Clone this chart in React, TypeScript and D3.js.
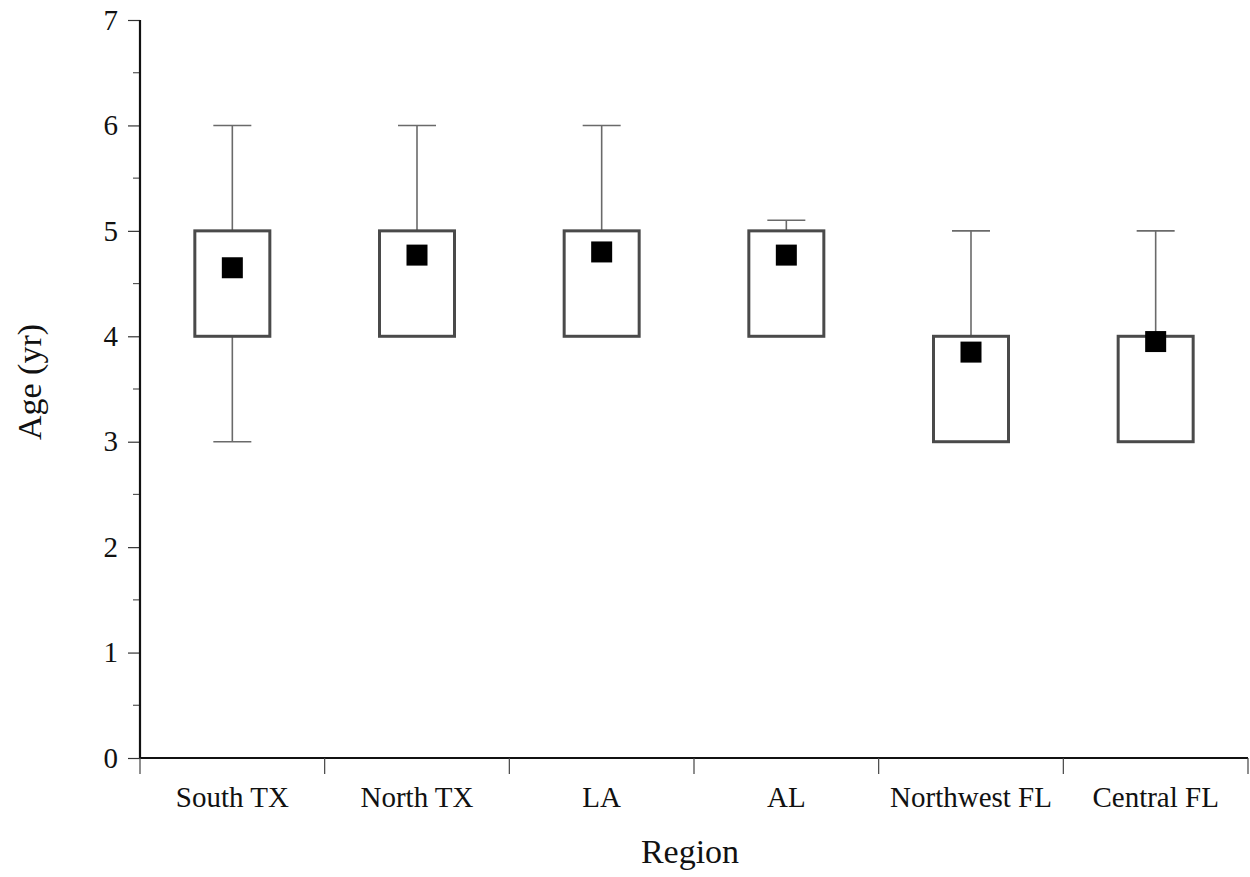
import React, { useEffect, useRef } from "react";
import * as d3 from "d3";

// Age distribution by region: box = interquartile range, whiskers = range, square = mean
const regions = ["South TX", "North TX", "LA", "AL", "Northwest FL", "Central FL"];
const lowerQuartile = [4, 4, 4, 4, 3, 3];
const upperQuartile = [5, 5, 5, 5, 4, 4];
const whiskerLow = [3, 4, 4, 4, 3, 3];
const whiskerHigh = [6, 6, 6, 5.1, 5, 5];
const meanAge = [4.65, 4.77, 4.8, 4.77, 3.85, 3.95];
const yTicks = [0, 1, 2, 3, 4, 5, 6, 7];
const yMinorTicks = [0.5, 1.5, 2.5, 3.5, 4.5, 5.5, 6.5];

const W = 1250;
const H = 877;
const FONT = "'Liberation Serif', 'Times New Roman', serif";

export default function App() {
  const ref = useRef<SVGSVGElement | null>(null);

  useEffect(() => {
    const svg = d3.select(ref.current);
    svg.selectAll("*").remove();

    const x = d3.scaleBand<string>().domain(regions).range([140, 1248]).padding(0);
    const y = d3.scaleLinear().domain([0, 7]).range([758, 20]);

    const boxW = 75;
    const capW = 38;
    const markSize = 21;

    const rows = regions.map((r, i) => ({
      region: r,
      q1: lowerQuartile[i],
      q3: upperQuartile[i],
      lo: whiskerLow[i],
      hi: whiskerHigh[i],
      mean: meanAge[i],
    }));

    const g = svg.append("g");

    // whiskers
    rows.forEach((d) => {
      const cx = x(d.region)! + x.bandwidth() / 2;
      const wg = g.append("g").attr("stroke", "#6a6a6a").attr("stroke-width", 1.6);
      if (d.hi > d.q3) {
        wg.append("line").attr("x1", cx).attr("x2", cx).attr("y1", y(d.q3)).attr("y2", y(d.hi));
        wg.append("line").attr("x1", cx - capW / 2).attr("x2", cx + capW / 2).attr("y1", y(d.hi)).attr("y2", y(d.hi));
      }
      if (d.lo < d.q1) {
        wg.append("line").attr("x1", cx).attr("x2", cx).attr("y1", y(d.q1)).attr("y2", y(d.lo));
        wg.append("line").attr("x1", cx - capW / 2).attr("x2", cx + capW / 2).attr("y1", y(d.lo)).attr("y2", y(d.lo));
      }
    });

    // boxes
    g.selectAll("rect.box")
      .data(rows)
      .join("rect")
      .attr("class", "box")
      .attr("x", (d) => x(d.region)! + x.bandwidth() / 2 - boxW / 2)
      .attr("y", (d) => y(d.q3))
      .attr("width", boxW)
      .attr("height", (d) => y(d.q1) - y(d.q3))
      .attr("fill", "white")
      .attr("stroke", "#4a4a4a")
      .attr("stroke-width", 3);

    // mean markers
    g.selectAll("rect.mean")
      .data(rows)
      .join("rect")
      .attr("class", "mean")
      .attr("x", (d) => x(d.region)! + x.bandwidth() / 2 - markSize / 2)
      .attr("y", (d) => y(d.mean) - markSize / 2)
      .attr("width", markSize)
      .attr("height", markSize)
      .attr("fill", "#000");

    // y axis
    const yAxis = svg.append("g").attr("transform", "translate(140,0)");
    yAxis
      .call(d3.axisLeft(y).tickValues(yTicks).tickSize(12).tickPadding(10).tickFormat(d3.format("d")))
      .call((a) => a.select(".domain").remove())
      .call((a) => a.selectAll(".tick line").attr("stroke", "#333").attr("stroke-width", 1.2))
      .call((a) =>
        a.selectAll(".tick text").attr("font-family", FONT).attr("font-size", 29).attr("fill", "#111")
      );
    yAxis
      .selectAll("line.minor")
      .data(yMinorTicks)
      .join("line")
      .attr("class", "minor")
      .attr("x1", -7)
      .attr("x2", 0)
      .attr("y1", (d) => y(d))
      .attr("y2", (d) => y(d))
      .attr("stroke", "#555")
      .attr("stroke-width", 1.2);
    yAxis
      .append("line")
      .attr("x1", 0)
      .attr("x2", 0)
      .attr("y1", y(7))
      .attr("y2", y(0))
      .attr("stroke", "#111")
      .attr("stroke-width", 2.2);

    // x axis: separators between categories, labels centred in each band
    const xAxis = svg.append("g").attr("transform", `translate(0,${y(0)})`);
    xAxis
      .append("line")
      .attr("x1", 140)
      .attr("x2", 1248)
      .attr("y1", 0)
      .attr("y2", 0)
      .attr("stroke", "#111")
      .attr("stroke-width", 2.2);
    const edges = regions.map((r) => x(r)!).concat([x.range()[1]]);
    xAxis
      .selectAll("line.sep")
      .data(edges)
      .join("line")
      .attr("class", "sep")
      .attr("x1", (d) => d)
      .attr("x2", (d) => d)
      .attr("y1", 0)
      .attr("y2", 16)
      .attr("stroke", "#444")
      .attr("stroke-width", 1.2);
    xAxis
      .selectAll("text.lbl")
      .data(regions)
      .join("text")
      .attr("class", "lbl")
      .attr("x", (d) => x(d)! + x.bandwidth() / 2)
      .attr("y", 49)
      .attr("text-anchor", "middle")
      .attr("font-family", FONT)
      .attr("font-size", 29)
      .attr("fill", "#111")
      .text((d) => d);

    // axis titles
    svg
      .append("text")
      .attr("x", 690)
      .attr("y", 863)
      .attr("text-anchor", "middle")
      .attr("font-family", FONT)
      .attr("font-size", 34)
      .attr("fill", "#111")
      .text("Region");
    svg
      .append("text")
      .attr("transform", "translate(41,382) rotate(-90)")
      .attr("text-anchor", "middle")
      .attr("font-family", FONT)
      .attr("font-size", 34)
      .attr("fill", "#111")
      .text("Age (yr)");
  }, []);

  return (
    <svg
      ref={ref}
      width={W}
      height={H}
      style={{ position: "absolute", left: 0, top: 0, background: "white" }}
    />
  );
}
